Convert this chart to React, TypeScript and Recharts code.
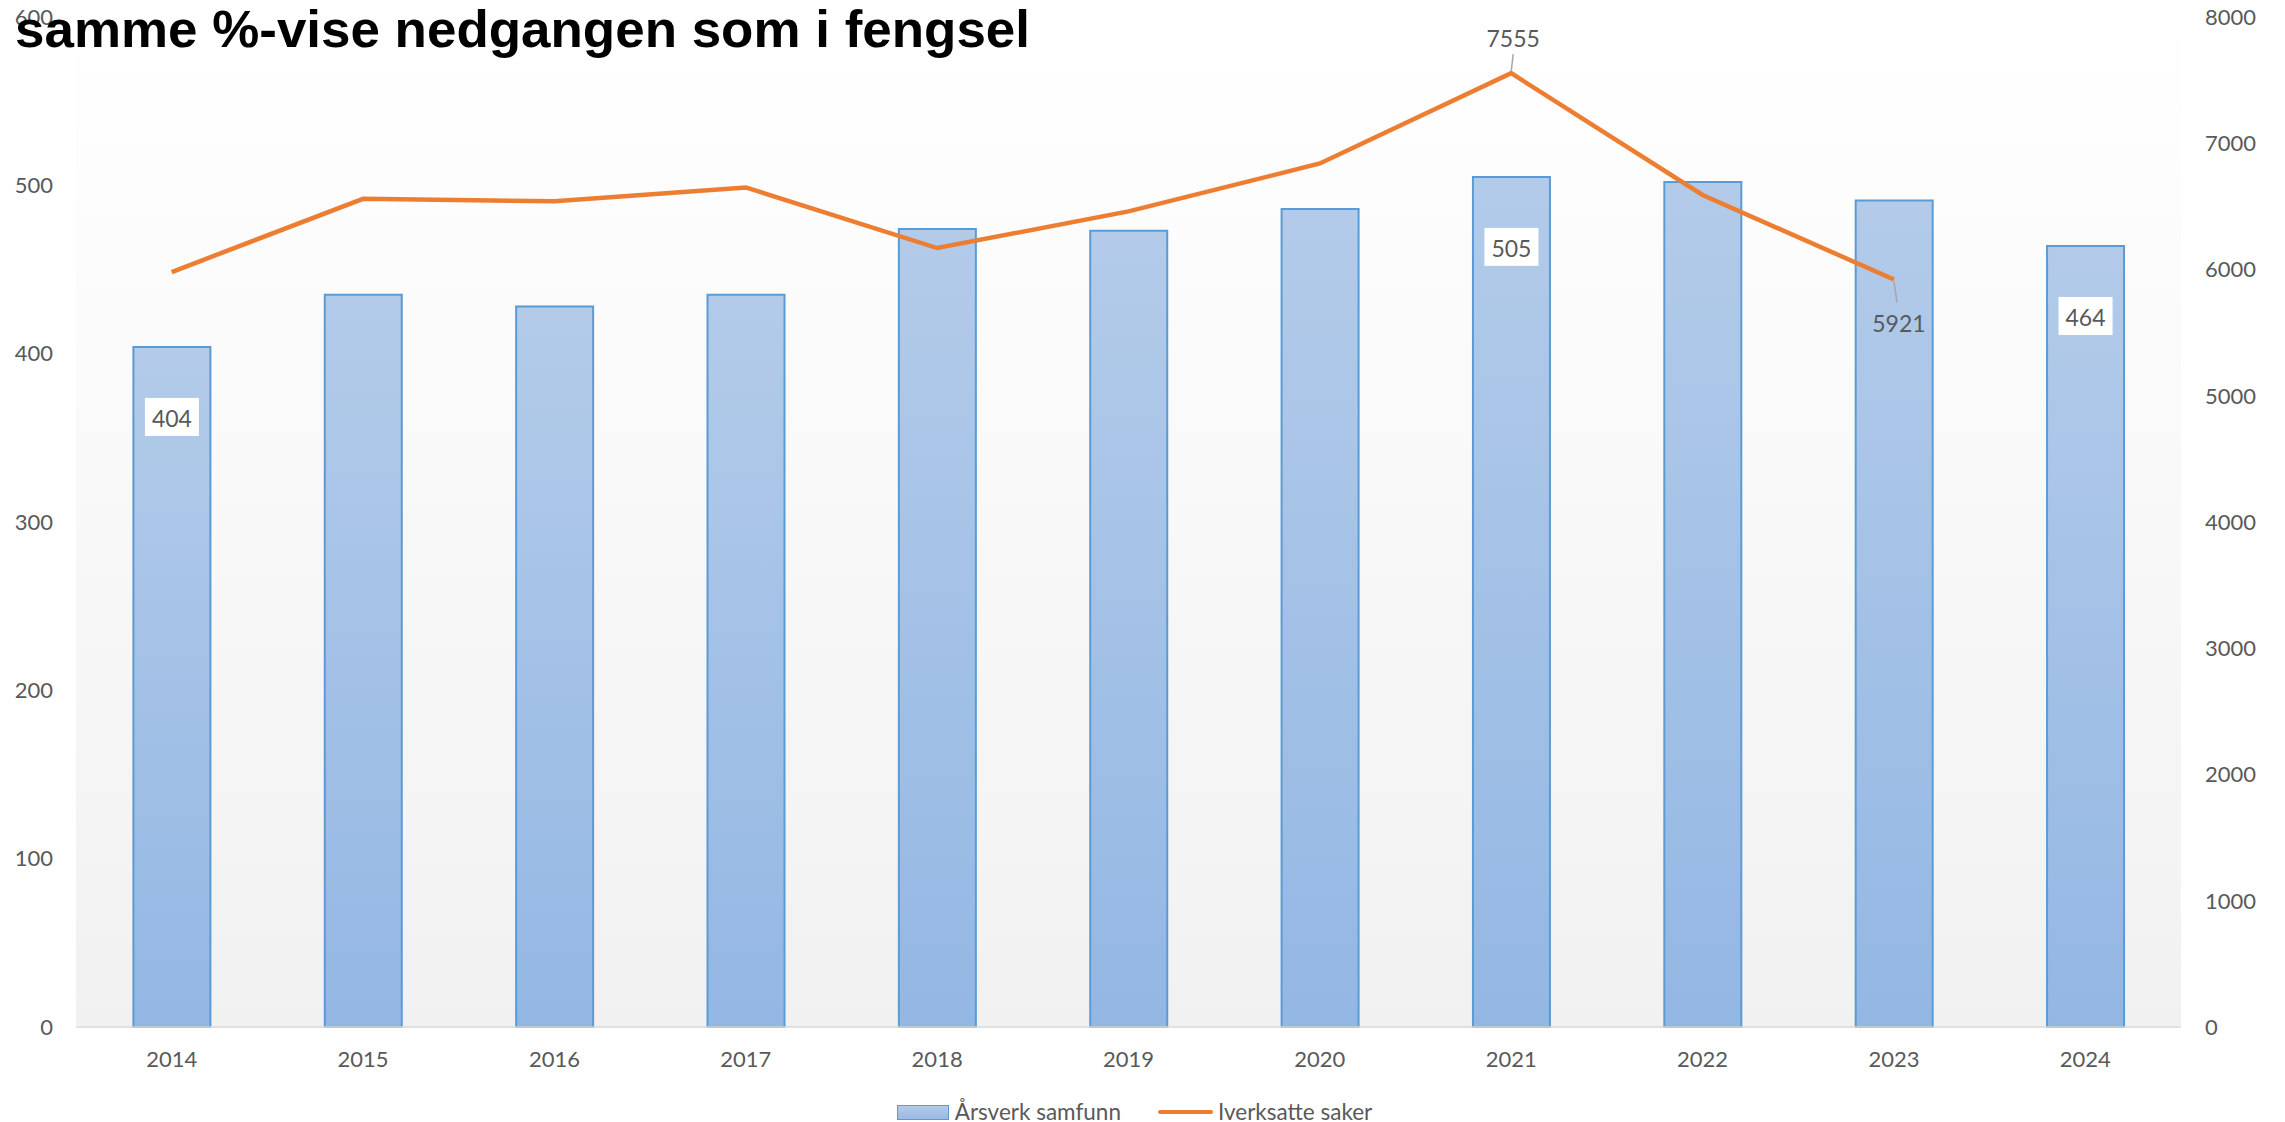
import React from 'react';
import { ComposedChart, Bar, Line, XAxis, YAxis, CartesianGrid, Legend, LabelList } from 'recharts';

const years = ['2014', '2015', '2016', '2017', '2018', '2019', '2020', '2021', '2022', '2023', '2024'];
const arsverkSamfunn = [404, 435, 428, 435, 474, 473, 486, 505, 502, 491, 464];
const iverksatteSaker = [5980, 6560, 6540, 6650, 6170, 6460, 6840, 7555, 6590, 5921, null];
const leftTicks = [0, 100, 200, 300, 400, 500, 600];
const rightTicks = [0, 1000, 2000, 3000, 4000, 5000, 6000, 7000, 8000];
const labelledBars = ['2014', '2021', '2024'];
const labelAbove = ['2021'];
const labelBelow = ['2023'];

const title = 'samme %-vise nedgangen som i fengsel';

const data = years.map((year, i) => ({
  year,
  samfunn: arsverkSamfunn[i],
  saker: iverksatteSaker[i],
}));

const grey = '#595959';
const orange = '#ED7D31';
const blue = '#5B9BD5';

document.body.style.margin = '0';

const BarLabel = (props: any) => {
  const { x, y, width, value, index } = props;
  if (!labelledBars.includes(years[index])) return null;
  const cx = x + width / 2;
  const cy = y + 70;
  return (
    <g>
      <rect x={cx - 27} y={cy - 19} width={54} height={38} fill="#fff" />
      <text x={cx} y={cy + 1} textAnchor="middle" dominantBaseline="central" fill={grey} fontSize={23}>
        {value}
      </text>
    </g>
  );
};

const LineLabel = (props: any) => {
  const { x, y, value, index } = props;
  const year = years[index];
  if (labelAbove.includes(year)) {
    return (
      <g>
        <line x1={x} y1={y - 2} x2={x + 2} y2={y - 19} stroke="#A6A6A6" strokeWidth={1.5} />
        <text x={x + 2} y={y - 35} textAnchor="middle" dominantBaseline="central" fill={grey} fontSize={23}>
          {value}
        </text>
      </g>
    );
  }
  if (labelBelow.includes(year)) {
    return (
      <g>
        <line x1={x} y1={y + 2} x2={x + 3} y2={y + 23} stroke="#A6A6A6" strokeWidth={1.5} />
        <text x={x + 5} y={y + 44} textAnchor="middle" dominantBaseline="central" fill={grey} fontSize={23}>
          {value}
        </text>
      </g>
    );
  }
  return null;
};

const LegendContent = () => (
  <div
    style={{
      height: 45,
      boxSizing: 'border-box',
      paddingTop: 23,
      paddingRight: 16,
      display: 'flex',
      justifyContent: 'center',
      alignItems: 'flex-start',
      fontSize: 22.5,
      lineHeight: '24px',
      color: grey,
      fontFamily: 'Lato, sans-serif',
    }}
  >
    <div style={{ display: 'flex', alignItems: 'center', marginRight: 37 }}>
      <span
        style={{
          display: 'inline-block',
          width: 50,
          height: 13,
          background: 'linear-gradient(#B3CBE9, #98BAE4)',
          border: `1.5px solid ${blue}`,
          marginRight: 6,
        }}
      />
      Årsverk samfunn
    </div>
    <div style={{ display: 'flex', alignItems: 'center' }}>
      <span style={{ display: 'inline-block', width: 55, height: 4, background: orange, marginRight: 5, borderRadius: 2 }} />
      Iverksatte saker
    </div>
  </div>
);

export default function App() {
  const tickStyle = { fill: grey, fontSize: 22, fontFamily: 'Lato, sans-serif' };
  return (
    <div style={{ position: 'relative', width: 2285, height: 1122, background: '#fff', fontFamily: 'Lato, sans-serif' }}>
      <ComposedChart width={2285} height={1122} data={data} margin={{ top: 17, right: 0, bottom: 0, left: 0 }} barCategoryGap="30%">
        <defs>
          <linearGradient id="plotBg" x1="0" y1="0" x2="0" y2="1">
            <stop offset="0%" stopColor="#FFFFFF" />
            <stop offset="100%" stopColor="#F1F1F1" />
          </linearGradient>
          <linearGradient id="barFill" x1="0" y1="0" x2="0" y2="1">
            <stop offset="0%" stopColor="#B3CBE9" />
            <stop offset="100%" stopColor="#93B7E3" />
          </linearGradient>
        </defs>
        <CartesianGrid horizontal={false} vertical={false} fill="url(#plotBg)" stroke="none" />
        <XAxis
          dataKey="year"
          height={50}
          tickLine={false}
          tickSize={0}
          tickMargin={24}
          axisLine={{ stroke: '#D9D9D9', strokeWidth: 1.5 }}
          tick={tickStyle}
        />
        <YAxis
          yAxisId="left"
          width={76}
          domain={[0, 600]}
          ticks={leftTicks}
          axisLine={false}
          tickLine={false}
          tickSize={0}
          tickMargin={23}
          tick={tickStyle}
        />
        <YAxis
          yAxisId="right"
          orientation="right"
          width={104}
          domain={[0, 8000]}
          ticks={rightTicks}
          axisLine={false}
          tickLine={false}
          tickSize={0}
          tickMargin={24}
          tick={tickStyle}
        />
        <Legend verticalAlign="bottom" height={45} content={<LegendContent />} wrapperStyle={{ left: 0, width: 2285 }} />
        <Bar
          yAxisId="left"
          dataKey="samfunn"
          name="Årsverk samfunn"
          fill="url(#barFill)"
          stroke={blue}
          strokeWidth={2}
          isAnimationActive={false}
        >
          <LabelList dataKey="samfunn" content={<BarLabel />} />
        </Bar>
        <Line
          yAxisId="right"
          dataKey="saker"
          name="Iverksatte saker"
          stroke={orange}
          strokeWidth={4.5}
          dot={false}
          activeDot={false}
          isAnimationActive={false}
        >
          <LabelList dataKey="saker" content={<LineLabel />} />
        </Line>
      </ComposedChart>
      <svg width={1100} height={70} style={{ position: 'absolute', left: 0, top: 0 }}>
        <text
          x={15}
          y={47}
          textLength={1015}
          lengthAdjust="spacingAndGlyphs"
          fontFamily="'Liberation Sans', Arial, sans-serif"
          fontWeight="bold"
          fontSize={52}
          fill="#000"
        >
          {title}
        </text>
      </svg>
    </div>
  );
}
